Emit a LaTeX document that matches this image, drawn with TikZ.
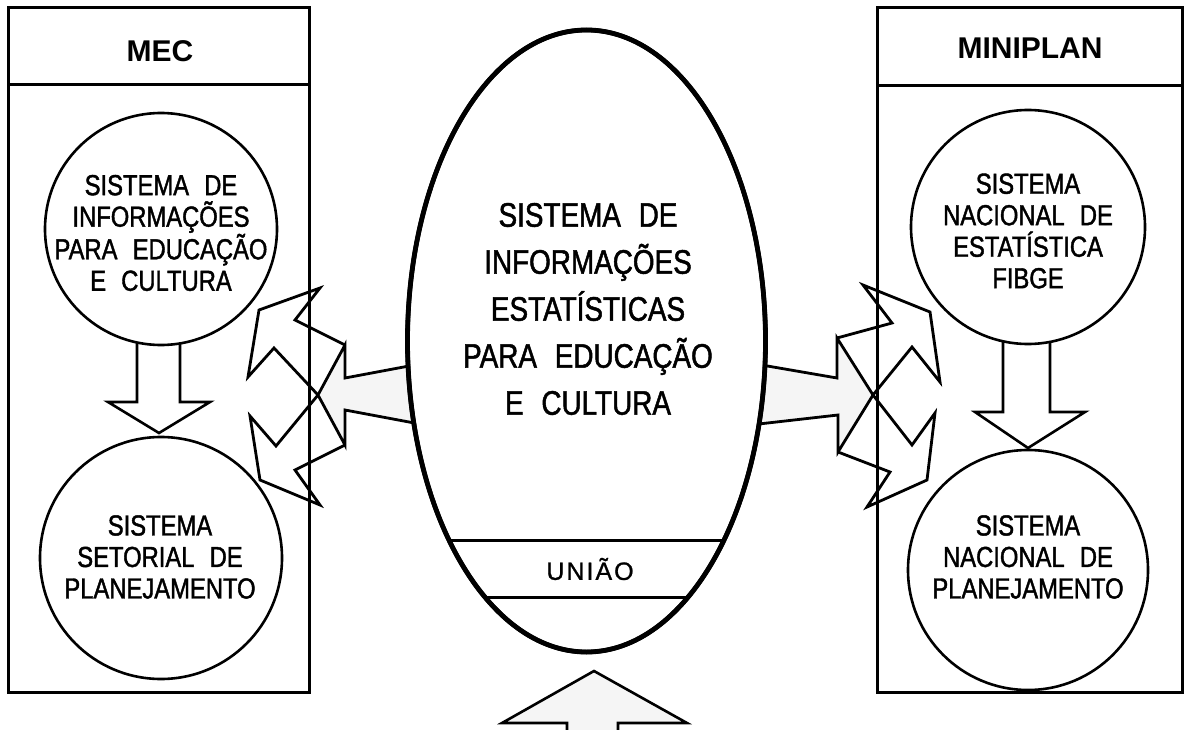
\documentclass[tikz,border=0pt]{standalone}
\usepackage{fontspec}
\usetikzlibrary{shapes.geometric}
\setmainfont{Liberation Sans}[FakeStretch=0.82, WordSpace=2.3, FakeBold=1.4]
\newfontfamily\headfont{Liberation Sans}[WordSpace=1.5]
\newfontfamily\spacedfont{Liberation Sans}[LetterSpace=8, FakeBold=1]
\begin{document}
\begin{tikzpicture}[x=1pt,y=-1pt,
  boxline/.style={line width=3pt},
  circ/.style={draw,circle,line width=2.6pt,fill=white},
  fatarrow/.style={draw,line width=2.6pt,line join=miter,fill=white},
  conn/.style={line width=2.8pt,line join=miter},
  shade/.style={fill=black!4},
  bigtxt/.style={align=center,inner sep=0pt,font=\fontsize{34}{47}\selectfont},
  circtxt/.style={align=center,inner sep=0pt,font=\fontsize{29}{31.5}\selectfont},
  headtxt/.style={inner sep=0pt,font=\headfont\bfseries\fontsize{30}{30}\selectfont}
]
\useasboundingbox (0,0) rectangle (1190,730);
\clip (0,0) rectangle (1190,730);

% ---------- boxes ----------
\draw[boxline] (8,8) rectangle (309,692);
\draw[boxline] (8,85) -- (309,85);
\draw[boxline] (877,8) rectangle (1182,692);
\draw[boxline] (877,86) -- (1182,86);
\node[headtxt] (mec) at (160,51) {MEC};
\node[headtxt] (miniplan) at (1030,48) {MINIPLAN};

% ---------- down arrows inside boxes ----------
\draw[fatarrow] (137,330) -- (180,330) -- (180,402) -- (210,402) -- (159,433) -- (108,402) -- (137,402) -- cycle;
\draw[fatarrow] (1003,330) -- (1050,330) -- (1050,412) -- (1085,412) -- (1028,448) -- (975,412) -- (1003,412) -- cycle;

% ---------- circles ----------
\node[circ,minimum size=232pt] (sie) at (161,229) {};
\node[circ,minimum size=242pt] (ssp) at (161,558) {};
\node[circ,minimum size=234pt] (sne) at (1028,227) {};
\node[circ,minimum size=240pt] (snp) at (1028,570) {};

\node[circtxt] (t1) at (161,233) {SISTEMA DE\\INFORMAÇÕES\\PARA EDUCAÇÃO\\E CULTURA};
\node[circtxt] (t2) at (160,557) {SISTEMA\\SETORIAL DE\\PLANEJAMENTO};
\node[circtxt] (t3) at (1028,231) {SISTEMA\\NACIONAL DE\\ESTATÍSTICA\\FIBGE};
\node[circtxt] (t4) at (1028,557) {SISTEMA\\NACIONAL DE\\PLANEJAMENTO};

% ---------- left connector ----------
\coordinate (lE1) at (425,363);
\coordinate (lE2) at (425,425);
\coordinate (lS1) at (345,378);
\coordinate (lS2) at (345,410);
\coordinate (lH1) at (345,345);
\coordinate (lH2) at (345,445);
\coordinate (lX)  at (318,395);
\filldraw[conn,shade] (lE1) -- (lS1) -- (lH1) -- (lX) -- (lH2) -- (lS2) -- (lE2) -- cycle;
\draw[conn] (lH1) -- (295,320) -- (320,288) -- (259,310) -- (248,377) -- (274,348) -- (lX);
\draw[conn] (lH2) -- (295,470) -- (320,505) -- (260,480) -- (250,416) -- (276,446) -- (lX);

% ---------- right connector ----------
\coordinate (rE1) at (750,363);
\coordinate (rE2) at (750,425);
\coordinate (rS1) at (837,378);
\coordinate (rS2) at (838,415);
\coordinate (rH1) at (837,338);
\coordinate (rH2) at (838,452);
\coordinate (rX)  at (873,395);
\filldraw[conn,shade] (rE1) -- (rS1) -- (rH1) -- (rX) -- (rH2) -- (rS2) -- (rE2) -- cycle;
\draw[conn] (rH1) -- (892,323) -- (863,285) -- (930,312) -- (940,382) -- (912,347) -- (rX);
\draw[conn] (rH2) -- (890,472) -- (867,507) -- (927,480) -- (935,413) -- (912,445) -- (rX);

% ---------- central ellipse ----------
\node[draw,ellipse,line width=4.5pt,fill=white,minimum width=358pt,minimum height=622pt,inner sep=0pt] (sie2) at (586.5,341) {};
\begin{scope}
  \clip (586.5,341) ellipse [x radius=179, y radius=311];
  \draw[line width=3pt] (400,540) -- (780,540);
  \draw[line width=3pt] (400,597) -- (780,597);
\end{scope}
\draw[line width=4.8pt] (586.5,341) ellipse [x radius=179, y radius=311];
\node[bigtxt] (tc) at (588,309) {SISTEMA DE\\INFORMAÇÕES\\ESTATÍSTICAS\\PARA EDUCAÇÃO\\E CULTURA};
\node[inner sep=0pt,font=\spacedfont\fontsize{25}{28}\selectfont] (uniao) at (590,569) {UNIÃO};

% ---------- bottom arrow ----------
\filldraw[line width=2.6pt,line join=miter,fill=black!4] (567,745) -- (567,723) -- (502,723) -- (594,671) -- (687,723) -- (618,723) -- (618,745);
\end{tikzpicture}
\end{document}
